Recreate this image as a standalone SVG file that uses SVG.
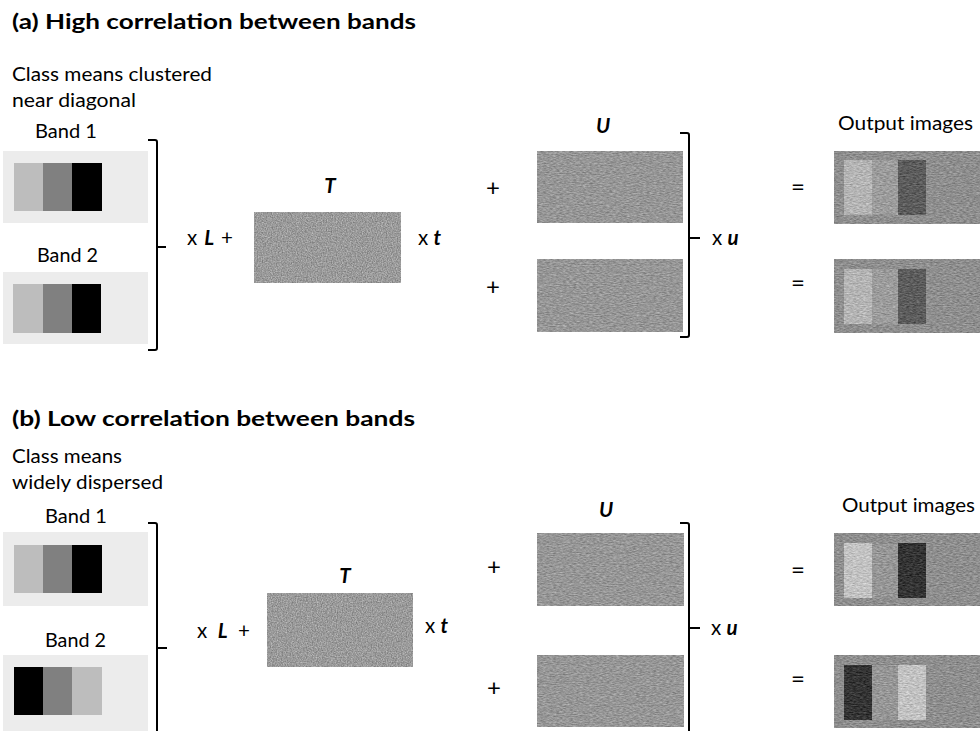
<svg xmlns="http://www.w3.org/2000/svg" width="980" height="731" viewBox="0 0 980 731">
<defs>
<style>
text{font-family:Lato,"Open Sans","Liberation Sans",sans-serif;fill:#000;}
.title{font-size:21.5px;font-weight:700;}
.lbl{font-size:18.5px;}
.sym{font-size:20.5px;}
.op{font-size:24px;}
.bi{font-weight:700;font-style:italic;}
.panel{fill:#ececec;}
.c1{fill:#bdbdbd;}.c2{fill:#808080;}.c3{fill:#000;}
.brk{fill:none;stroke:#000;stroke-width:2;}
.grain{filter:url(#grain);}
.streak{filter:url(#streak);}
</style>
<filter id="grain" x="0" y="0" width="1" height="1" color-interpolation-filters="sRGB">
<feTurbulence type="fractalNoise" baseFrequency="0.8" numOctaves="2" seed="3" result="n"/>
<feColorMatrix in="n" type="matrix" values="1 0 0 0 0 1 0 0 0 0 1 0 0 0 0 0 0 0 0 1" result="g"/>
<feComposite in="SourceGraphic" in2="g" operator="arithmetic" k1="0" k2="1" k3="0.4" k4="-0.2" result="m"/>
<feComposite in="m" in2="SourceGraphic" operator="in"/>
</filter>
<filter id="streak" x="0" y="0" width="1" height="1" color-interpolation-filters="sRGB">
<feTurbulence type="fractalNoise" baseFrequency="0.3 0.9" numOctaves="2" seed="7" result="n"/>
<feColorMatrix in="n" type="matrix" values="1 0 0 0 0 1 0 0 0 0 1 0 0 0 0 0 0 0 0 1" result="g"/>
<feComposite in="SourceGraphic" in2="g" operator="arithmetic" k1="0" k2="1" k3="0.35" k4="-0.175" result="m"/>
<feComposite in="m" in2="SourceGraphic" operator="in"/>
</filter>
</defs>
<rect width="980" height="731" fill="#fff"/>

<!-- Panel (a) -->
<g id="title-a"><text class="title" x="12" y="29" textLength="404" lengthAdjust="spacingAndGlyphs">(a)  High correlation between bands</text></g>
<g id="caption-a">
<text class="lbl" x="12" y="81" textLength="200" lengthAdjust="spacingAndGlyphs">Class means clustered</text>
<text class="lbl" x="12" y="107" textLength="124" lengthAdjust="spacingAndGlyphs">near diagonal</text>
</g>
<g id="a-band1">
<text class="lbl" x="35" y="138" textLength="62" lengthAdjust="spacingAndGlyphs">Band 1</text>
<rect class="panel" x="3" y="151" width="145" height="72"/>
<rect class="c1" x="14" y="163" width="29" height="48"/>
<rect class="c2" x="43" y="163" width="29" height="48"/>
<rect class="c3" x="72" y="163" width="30" height="48"/>
</g>
<g id="a-band2">
<text class="lbl" x="37" y="262" textLength="61" lengthAdjust="spacingAndGlyphs">Band 2</text>
<rect class="panel" x="3" y="272" width="145" height="72"/>
<rect class="c1" x="13" y="284" width="30" height="49"/>
<rect class="c2" x="43" y="284" width="29" height="49"/>
<rect class="c3" x="72" y="284" width="29" height="49"/>
</g>
<g id="a-xL"><text class="sym" x="187" y="245" textLength="46" lengthAdjust="spacing">x <tspan class="bi">L</tspan> +</text></g>
<g id="a-T">
<text class="sym bi" x="330" y="193" text-anchor="middle">T</text>
<rect class="grain" x="254" y="212" width="147" height="71" fill="#9a9a9a"/>
</g>
<g id="a-xt"><text class="sym" x="418" y="245">x <tspan class="bi">t</tspan></text></g>
<g id="a-plus"><text class="op" x="493" y="196" text-anchor="middle">+</text><text class="op" x="493" y="295" text-anchor="middle">+</text></g>
<g id="a-U">
<text class="sym bi" x="603" y="133" text-anchor="middle">U</text>
<rect class="streak" x="537" y="151" width="146" height="72" fill="#969696"/>
<rect class="streak" x="537" y="259" width="146" height="73" fill="#969696"/>
</g>
<g id="a-xu"><text class="sym" x="712" y="245">x <tspan class="bi">u</tspan></text></g>
<g id="a-eq"><text class="op" x="798" y="195" text-anchor="middle">=</text><text class="op" x="798" y="291" text-anchor="middle">=</text></g>
<g id="a-output">
<text class="lbl" x="838" y="130" textLength="135" lengthAdjust="spacingAndGlyphs">Output images</text>
<g class="streak">
<rect x="834" y="151" width="146" height="73" fill="#8e8e8e"/>
<rect x="844" y="160" width="28" height="55" fill="#b4b4b4"/>
<rect x="872" y="160" width="26" height="55" fill="#9c9c9c"/>
<rect x="898" y="160" width="28" height="55" fill="#5c5c5c"/>
</g>
<g class="streak">
<rect x="834" y="259" width="146" height="74" fill="#8e8e8e"/>
<rect x="844" y="269" width="28" height="55" fill="#b4b4b4"/>
<rect x="872" y="269" width="26" height="55" fill="#9c9c9c"/>
<rect x="898" y="269" width="28" height="55" fill="#5c5c5c"/>
</g>
</g>

<!-- Panel (b) -->
<g id="title-b"><text class="title" x="12" y="426" textLength="403" lengthAdjust="spacingAndGlyphs">(b)  Low correlation between bands</text></g>
<g id="caption-b">
<text class="lbl" x="12" y="463" textLength="110" lengthAdjust="spacingAndGlyphs">Class means</text>
<text class="lbl" x="12" y="489" textLength="151" lengthAdjust="spacingAndGlyphs">widely dispersed</text>
</g>
<g id="b-band1">
<text class="lbl" x="45" y="523" textLength="62" lengthAdjust="spacingAndGlyphs">Band 1</text>
<rect class="panel" x="3" y="532" width="145" height="74"/>
<rect class="c1" x="14" y="545" width="29" height="48"/>
<rect class="c2" x="43" y="545" width="29" height="48"/>
<rect class="c3" x="72" y="545" width="30" height="48"/>
</g>
<g id="b-band2">
<text class="lbl" x="45" y="647" textLength="61" lengthAdjust="spacingAndGlyphs">Band 2</text>
<rect class="panel" x="3" y="655" width="145" height="80"/>
<rect class="c3" x="14" y="667" width="29" height="48"/>
<rect class="c2" x="43" y="667" width="29" height="48"/>
<rect class="c1" x="72" y="667" width="30" height="48"/>
</g>
<g id="b-xL"><text class="sym" x="197" y="638" textLength="53" lengthAdjust="spacing">x <tspan class="bi">L</tspan> +</text></g>
<g id="b-T">
<text class="sym bi" x="345" y="583" text-anchor="middle">T</text>
<rect class="grain" x="267" y="593" width="146" height="74" fill="#9a9a9a"/>
</g>
<g id="b-xt"><text class="sym" x="425" y="633">x <tspan class="bi">t</tspan></text></g>
<g id="b-plus"><text class="op" x="494" y="575" text-anchor="middle">+</text><text class="op" x="494" y="696" text-anchor="middle">+</text></g>
<g id="b-U">
<text class="sym bi" x="606" y="517" text-anchor="middle">U</text>
<rect class="streak" x="537" y="533" width="147" height="73" fill="#969696"/>
<rect class="streak" x="537" y="655" width="147" height="72" fill="#969696"/>
</g>
<g id="b-xu"><text class="sym" x="711" y="635">x <tspan class="bi">u</tspan></text></g>
<g id="b-eq"><text class="op" x="798" y="578" text-anchor="middle">=</text><text class="op" x="798" y="687" text-anchor="middle">=</text></g>
<g id="b-output">
<text class="lbl" x="842" y="512" textLength="133" lengthAdjust="spacingAndGlyphs">Output images</text>
<g class="streak">
<rect x="834" y="533" width="146" height="73" fill="#8e8e8e"/>
<rect x="844" y="543" width="28" height="55" fill="#c2c2c2"/>
<rect x="872" y="543" width="26" height="55" fill="#969696"/>
<rect x="898" y="543" width="28" height="55" fill="#343434"/>
</g>
<g class="streak">
<rect x="834" y="655" width="146" height="73" fill="#8e8e8e"/>
<rect x="844" y="665" width="28" height="55" fill="#343434"/>
<rect x="872" y="665" width="26" height="55" fill="#969696"/>
<rect x="898" y="665" width="28" height="55" fill="#c2c2c2"/>
</g>
</g>

<!-- Connectors (brackets) -->
<g id="connectors">
<path class="brk" d="M148,140 L155,140 Q157,140 157,142 L157,348 Q157,350 155,350 L148,350 M157,247 L166,247"/>
<path class="brk" d="M680,133 L687,133 Q689,133 689,135 L689,335 Q689,337 687,337 L680,337 M689,238 L700,238"/>
<path class="brk" d="M148,523 L155,523 Q157,523 157,525 L157,740 M157,648 L167,648"/>
<path class="brk" d="M680,523 L687,523 Q689,523 689,525 L689,740 M689,628 L700,628"/>
</g>
</svg>
